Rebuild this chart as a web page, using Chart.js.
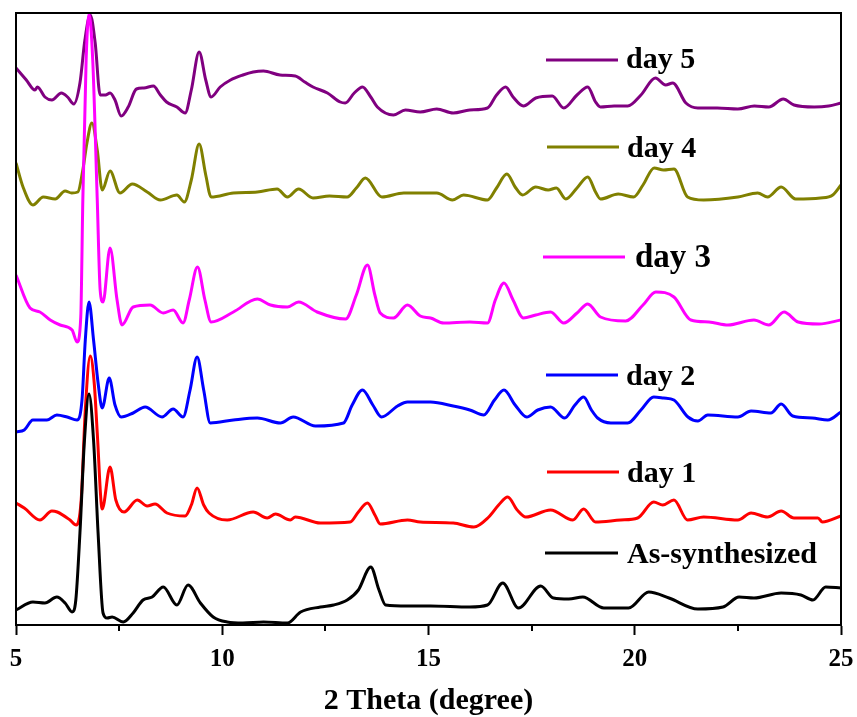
<!DOCTYPE html>
<html><head><meta charset="utf-8">
<script src="https://cdn.jsdelivr.net/npm/chart.js@4/dist/chart.umd.min.js"></script>
<style>html,body{margin:0;padding:0;background:#fff}#wrap{width:857px;height:717px}</style>
</head><body><div id="wrap"><canvas id="c" width="857" height="717"></canvas></div>
<script>
// 2 Theta (degree) positions and stacked (offset) intensities, a.u.
const asSynTheta = [5.0,5.41,5.7,5.99,6.19,6.36,6.45,6.55,6.66,6.77,6.88,6.99,7.11,7.21,7.33,7.6,7.84,8.08,8.3,8.57,8.9,9.17,9.47,9.78,10.12,10.5,11.0,11.58,11.9,12.38,12.7,13.03,13.3,13.6,13.8,13.96,14.5,15.05,16.0,16.43,16.8,17.18,17.72,18.03,18.4,18.74,19.25,19.85,20.34,20.83,21.53,22.14,22.53,22.89,23.55,24.03,24.32,24.63,25.0];
const asSynInt   = [15,23,22,28,22,13,25,92,185,231,185,92,12,7,8,3,12,25,28,38,20,40,22,8,3,2,3,2,13,18,20,25,35,58,35,20,19,19,18,20,42,17,39,27,26,28,17,17,33,27,16,18,28,27,32,30,25,38,37];

const day1Theta = [5.0,5.2,5.58,5.87,6.0,6.31,6.46,6.58,6.68,6.8,6.9,6.97,7.09,7.28,7.42,7.62,7.94,8.18,8.37,8.66,9.1,9.25,9.39,9.55,9.68,10.12,10.75,11.09,11.29,11.65,11.77,12.38,13.1,13.3,13.52,13.7,13.83,14.49,14.8,15.6,16.1,16.46,16.7,16.92,17.15,17.36,17.96,18.5,18.76,19.05,19.66,20.07,20.46,20.68,20.95,21.28,21.67,22.5,22.82,23.22,23.55,23.86,24.44,24.55,25.0];
const day1Int   = [122,117,105,114,113,105,100,125,215,269,240,192,116,158,125,113,125,119,121,112,109,120,137,120,112,105,113,107,111,105,108,102,103,113,122,110,101,105,103,102,98,108,120,128,115,108,115,105,116,103,105,107,123,120,125,105,108,105,112,108,114,107,107,103,109];

const day2Theta = [5.0,5.2,5.41,5.75,5.99,6.24,6.48,6.6,6.68,6.77,6.88,6.99,7.09,7.26,7.4,7.55,7.84,8.13,8.54,8.81,9.05,9.22,9.39,9.55,9.71,10.27,10.85,11.41,11.72,12.26,12.94,13.15,13.4,13.65,13.86,14.25,14.49,14.8,15.05,15.6,16.0,16.34,16.6,16.83,17.1,17.38,17.65,17.96,18.3,18.55,18.76,18.95,19.1,19.42,19.83,20.15,20.46,20.7,20.95,21.29,21.53,21.77,22.5,22.82,23.3,23.55,23.83,24.3,24.68,25.0];
const day2Int   = [193,195,205,205,210,208,205,225,285,323,285,242,217,247,220,208,212,218,208,216,208,235,268,235,202,205,207,202,208,199,202,220,235,220,208,219,223,223,223,219,215,210,225,235,220,208,215,218,207,220,228,215,207,202,202,215,228,227,225,208,204,210,208,214,212,221,209,207,205,213];

const day3Theta = [5.0,5.34,5.58,5.83,6.07,6.36,6.48,6.57,6.62,6.7,6.77,6.86,6.97,7.04,7.11,7.28,7.45,7.57,7.84,8.25,8.57,8.81,9.05,9.2,9.4,9.58,9.73,10.27,10.85,11.17,11.58,11.85,12.3,12.99,13.25,13.52,13.7,13.83,14.15,14.49,14.8,15.05,15.37,16.0,16.43,16.62,16.83,17.05,17.3,17.6,17.96,18.28,18.6,18.86,19.17,19.78,20.2,20.51,20.95,21.36,21.8,22.26,22.89,23.25,23.62,23.96,24.47,25.0];
const day3Int   = [350,317,313,305,300,295,283,308,425,565,611,565,425,335,323,377,325,300,318,320,312,315,302,325,358,325,303,313,326,320,318,323,313,306,330,360,330,312,307,320,309,307,302,303,302,325,342,325,307,310,313,302,312,321,308,304,320,333,328,305,303,300,305,300,313,303,301,305];

const day4Theta = [5.0,5.17,5.41,5.66,5.95,6.19,6.35,6.5,6.62,6.72,6.84,6.97,7.09,7.28,7.52,7.82,8.18,8.5,8.9,9.08,9.25,9.44,9.6,9.73,10.27,10.85,11.33,11.58,11.85,12.2,12.6,13.03,13.25,13.47,13.87,14.4,14.8,15.2,15.58,15.85,16.43,16.65,16.9,17.1,17.28,17.6,17.9,18.1,18.33,18.6,18.86,19.05,19.17,19.6,19.97,20.2,20.47,20.7,20.95,21.28,21.67,22.5,22.98,23.22,23.55,23.9,24.5,24.8,25.0];
const day4Int   = [462,438,420,428,426,434,432,433,455,482,502,475,435,454,432,441,433,425,430,423,445,481,450,428,432,433,436,428,436,427,429,428,437,447,428,432,432,432,425,430,425,437,451,438,430,438,435,437,426,437,448,433,426,431,428,440,457,455,456,428,425,428,432,428,438,426,427,430,440];

const day5Theta = [5.0,5.25,5.46,5.52,5.7,5.87,6.1,6.25,6.4,6.55,6.67,6.8,6.92,7.04,7.17,7.28,7.4,7.55,7.72,7.92,8.1,8.33,8.5,8.65,8.9,9.1,9.25,9.44,9.6,9.73,9.95,10.2,10.5,10.75,11.0,11.4,11.77,12.0,12.2,12.55,12.86,12.98,13.2,13.4,13.6,13.76,14.15,14.44,14.8,15.2,15.6,16.0,16.43,16.65,16.87,17.05,17.3,17.6,18.0,18.28,18.6,18.86,19.05,19.17,19.5,19.83,20.15,20.5,20.75,20.92,21.24,21.53,22.0,22.5,22.9,23.25,23.6,23.86,24.35,24.7,25.0];
const day5Int   = [557,545,535,538,528,525,532,528,521,542,585,610,582,530,530,532,525,509,518,536,537,539,530,523,518,512,535,573,545,528,538,545,550,553,554,550,549,543,538,532,523,522,532,538,528,518,510,515,513,516,512,515,517,530,538,528,519,527,529,517,530,538,523,518,519,519,530,547,540,542,522,517,517,516,519,518,526,520,518,519,522];

const seriesNames  = ['As-synthesized','day 1','day 2','day 3','day 4','day 5'];
const seriesColors = ['#000000','#ff0000','#0000ff','#ff00ff','#808000','#800080'];
const xMajorTicks  = [5,10,15,20,25];
const xMinorTicks  = [7.5,12.5,17.5,22.5];

const thetas = [asSynTheta, day1Theta, day2Theta, day3Theta, day4Theta, day5Theta];
const ints   = [asSynInt, day1Int, day2Int, day3Int, day4Int, day5Int];

const SERIF = '"Liberation Serif","Times New Roman",serif';

const datasets = seriesNames.map((name, k) => ({
  label: name,
  data: thetas[k].map((t, i) => ({x: t, y: ints[k][i]})),
  borderColor: seriesColors[k],
  borderWidth: 3,
  pointRadius: 0,
  fill: false,
  cubicInterpolationMode: 'monotone',
  order: k
}));

// legend placement (layout only)
const legendLayout = [
  {x1:545, x2:618, y:553, tx:627, ty:563, size:30},
  {x1:547, x2:619, y:472, tx:627, ty:482, size:30},
  {x1:546, x2:618, y:375, tx:626, ty:385, size:30},
  {x1:543, x2:625, y:257, tx:635, ty:267, size:33},
  {x1:547, x2:619, y:147, tx:627, ty:157, size:30},
  {x1:546, x2:618, y:60,  tx:626, ty:68,  size:30}
];

const framePlugin = {
  id: 'frame',
  afterDraw(chart) {
    const {ctx, chartArea: a} = chart;
    const xs = chart.scales.x;
    ctx.save();
    ctx.strokeStyle = '#000';
    ctx.lineWidth = 2;
    ctx.strokeRect(a.left, a.top, a.right - a.left, a.bottom - a.top);
    ctx.beginPath();
    xMinorTicks.forEach(v => {
      const px = Math.round(xs.getPixelForValue(v));
      ctx.moveTo(px, a.bottom);
      ctx.lineTo(px, a.bottom + 6);
    });
    ctx.stroke();
    seriesNames.forEach((name, k) => {
      const L = legendLayout[k];
      ctx.beginPath();
      ctx.strokeStyle = seriesColors[k];
      ctx.lineWidth = 3;
      ctx.moveTo(L.x1, L.y);
      ctx.lineTo(L.x2, L.y);
      ctx.stroke();
      ctx.fillStyle = '#000';
      ctx.font = 'bold ' + L.size + 'px ' + SERIF;
      ctx.textBaseline = 'alphabetic';
      ctx.textAlign = 'left';
      ctx.fillText(name, L.tx, L.ty);
    });
    ctx.restore();
  }
};

new Chart(document.getElementById('c'), {
  type: 'line',
  data: { datasets },
  options: {
    responsive: false,
    animation: false,
    layout: { padding: { left: 16, right: 16, top: 13, bottom: 0 } },
    plugins: { legend: { display: false }, tooltip: { enabled: false } },
    scales: {
      x: {
        type: 'linear', min: 5, max: 25, position: 'bottom',
        afterBuildTicks: s => { s.ticks = xMajorTicks.map(v => ({value: v})); },
        afterFit: s => { s.height = 92; s.paddingLeft = 0; s.paddingRight = 0; },
        ticks: { color: '#000', padding: 10, maxRotation: 0, autoSkip: false,
                 font: { family: SERIF, size: 25, weight: 'bold' } },
        grid: { display: true, drawOnChartArea: false, drawTicks: true, tickLength: 10, tickWidth: 2, tickColor: '#000' },
        border: { display: true, color: '#000', width: 2 },
        title: { display: true, text: '2 Theta (degree)', color: '#000',
                 font: { family: SERIF, size: 30, weight: 'bold' }, padding: { top: 0, bottom: -2 } }
      },
      y: { display: false, min: 0, max: 612 }
    }
  },
  plugins: [framePlugin]
});
</script>
</body></html>
